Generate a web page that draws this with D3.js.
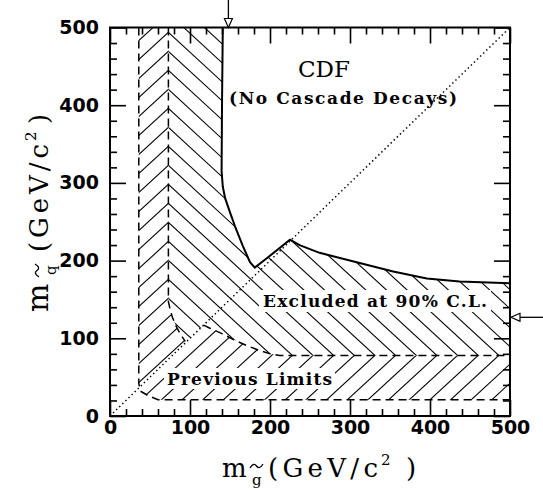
<!DOCTYPE html>
<html>
<head>
<meta charset="utf-8">
<script src="https://cdn.jsdelivr.net/npm/d3@7"></script>
<style>
  body { margin: 0; background: #fff; }
  text { fill: #000; }
</style>
</head>
<body>
<svg width="543" height="490"></svg>
<script>
// CDF limit (solid line): gluino mass, squark mass
var cdfGluino = [141, 140, 139.5, 141, 144, 150, 157, 166, 175, 181, 196, 225, 237, 262, 312, 354, 396, 437, 500];
var cdfSquark = [500, 400, 315, 295, 280, 262, 242, 219, 198, 191, 203, 227, 220, 210, 197, 186, 177, 173, 171];

// previous limits - outer dashed edge
var prevOuterGluino = [36, 36, 38, 48, 60, 500];
var prevOuterSquark = [500, 42, 32, 26, 21, 21];
// previous limits - inner dashed edge above the diagonal
var prevUpperGluino = [73, 73, 75, 78, 82, 87, 94];
var prevUpperSquark = [500, 147, 138, 127, 117, 107, 96];
// previous limits - inner dashed edge below the diagonal
var prevLowerGluino = [117, 125, 140, 155, 170, 185, 200, 212, 500];
var prevLowerSquark = [117, 113, 106, 98, 91, 85, 80, 78, 78];

var majorTicks = [0, 100, 200, 300, 400, 500];
var minorTicks = [20, 40, 60, 80, 120, 140, 160, 180, 220, 240, 260, 280, 320, 340, 360, 380, 420, 440, 460, 480];

var arrowGluino = 148; // arrow on top axis
var arrowSquark = 127; // arrow on right axis

var svg = d3.select("svg");
var pLeft = 110, pRight = 510, pTop = 27.5, pBottom = 416;

var x = d3.scaleLinear().domain([0, 500]).range([pLeft, pRight]);
var y = d3.scaleLinear().domain([0, 500]).range([pBottom, pTop]);

function pts(gx, sq) {
  return gx.map(function (d, i) { return [d, sq[i]]; });
}
var line = d3.line()
  .x(function (d) { return x(d[0]); })
  .y(function (d) { return y(d[1]); });

var cdf = pts(cdfGluino, cdfSquark);
var outer = pts(prevOuterGluino, prevOuterSquark);
var upper = pts(prevUpperGluino, prevUpperSquark);
var lower = pts(prevLowerGluino, prevLowerSquark);

// regions
var newRegion = cdf.concat(lower.slice().reverse(), upper.slice().reverse());
var prevRegion = outer.concat(lower.slice().reverse(), upper.slice().reverse());

var defs = svg.append("defs");
defs.append("clipPath").attr("id", "clipNew")
  .append("path").attr("d", line(newRegion) + "Z");
defs.append("clipPath").attr("id", "clipPrev")
  .append("path").attr("d", line(prevRegion) + "Z");

// hatching, chevrons meet on the dashed edges
var slope = 0.92, spacing = 19;
var pxA = x(73), pyB = y(78);
function hatch(clipId, dir) {
  var g = svg.append("g").attr("clip-path", "url(#" + clipId + ")");
  for (var k = -50; k <= 50; k++) {
    var y1 = pyB + dir * slope * (pLeft - pxA) + k * spacing;
    var y2 = pyB + dir * slope * (pRight - pxA) + k * spacing;
    g.append("line")
      .attr("x1", pLeft).attr("y1", y1)
      .attr("x2", pRight).attr("y2", y2)
      .attr("stroke", "#000").attr("stroke-width", 1.1);
  }
}
hatch("clipNew", 1);
hatch("clipPrev", -1);

// text labels with white backing
function label(txt, xp, yp, size, weight, len) {
  var g = svg.append("g");
  var r = g.append("rect").attr("fill", "#fff");
  var t = g.append("text")
    .attr("x", xp).attr("y", yp)
    .style("font-family", "DejaVu Serif")
    .style("font-size", size + "px")
    .style("font-weight", weight)
    .attr("textLength", len)
    .attr("lengthAdjust", "spacing")
    .text(txt);
  return { g: g, r: r, t: t };
}
var exc = label("Excluded at 90% C.L.", 263, 307, 17, "bold", 224);
var bb = exc.t.node().getBBox();
exc.r.attr("x", bb.x - 4).attr("y", 290).attr("width", bb.width + 8).attr("height", 22);
var prv = label("Previous Limits", 167, 385, 17, "bold", 165);
bb = prv.t.node().getBBox();
prv.r.attr("x", bb.x - 3).attr("y", 368).attr("width", bb.width + 6).attr("height", 21);

// diagonal
svg.append("path")
  .attr("d", line([[0, 0], [500, 500]]))
  .attr("fill", "none").attr("stroke", "#000")
  .attr("stroke-width", 1.5).attr("stroke-dasharray", "1.4,2.9");

// dashed previous limits
[outer, upper, lower].forEach(function (p) {
  svg.append("path")
    .attr("d", line(p))
    .attr("fill", "none").attr("stroke", "#000")
    .attr("stroke-width", 1.5).attr("stroke-dasharray", "8,5");
});

// CDF limit
svg.append("path")
  .attr("d", line(cdf))
  .attr("fill", "none").attr("stroke", "#000")
  .attr("stroke-width", 2);

// frame
svg.append("rect")
  .attr("x", pLeft).attr("y", pTop)
  .attr("width", pRight - pLeft).attr("height", pBottom - pTop)
  .attr("fill", "none").attr("stroke", "#000").attr("stroke-width", 2);

// axes
function axis(gen, tr, vals, size, fmt) {
  var g = svg.append("g").attr("transform", tr)
    .call(gen.tickValues(vals).tickSize(size).tickSizeOuter(0).tickFormat(fmt));
  g.select(".domain").remove();
  g.selectAll(".tick line").attr("stroke-width", 1.6);
  return g;
}
var noLabel = function () { return ""; };
var xb = axis(d3.axisBottom(x).tickPadding(5), "translate(0," + pBottom + ")", majorTicks, -16, d3.format("d"));
axis(d3.axisBottom(x), "translate(0," + pBottom + ")", minorTicks, -7, noLabel);
var yl = axis(d3.axisLeft(y).tickPadding(11), "translate(" + pLeft + ",0)", majorTicks, -16, d3.format("d"));
axis(d3.axisLeft(y), "translate(" + pLeft + ",0)", minorTicks, -7, noLabel);
axis(d3.axisTop(x), "translate(0," + pTop + ")", majorTicks, -16, noLabel);
axis(d3.axisTop(x), "translate(0," + pTop + ")", minorTicks, -7, noLabel);
axis(d3.axisRight(y), "translate(" + pRight + ",0)", majorTicks, -16, noLabel);
axis(d3.axisRight(y), "translate(" + pRight + ",0)", minorTicks, -7, noLabel);

[xb, yl].forEach(function (g) {
  g.selectAll("text")
    .style("font-family", "DejaVu Sans")
    .style("font-size", "19px")
    .style("font-weight", "bold")
    .attr("fill", "#000");
});

// title texts
svg.append("text")
  .attr("x", 324).attr("y", 77)
  .attr("text-anchor", "middle")
  .style("font-family", "DejaVu Serif")
  .style("font-size", "23px")
  .text("CDF");
label("(No Cascade Decays)", 229, 104, 17, "bold", 228);

// axis titles, positions along the reading direction
function massTitle(tr, sub, o) {
  var g = svg.append("g").attr("transform", tr);
  var serif = function (sel) { return sel.style("font-family", "DejaVu Serif"); };
  serif(g.append("text").attr("x", 0).attr("y", 0).style("font-size", o.m + "px").text("m"));
  // tilde over the subscript
  var a = o.sub - 1;
  g.append("path")
    .attr("d", "M" + a + ",-9 C" + (a + 3) + ",-14 " + (a + 5) + ",-13 " + (a + 6.5) + ",-11" +
      " S" + (a + 10) + ",-8 " + (a + 13) + ",-13")
    .attr("fill", "none").attr("stroke", "#000").attr("stroke-width", 1.3);
  serif(g.append("text").attr("x", o.sub + 1).attr("y", 8).style("font-size", "15px").text(sub));
  serif(g.append("text").attr("x", o.open).attr("y", 0).style("font-size", "26px")
    .attr("textLength", o.len).attr("lengthAdjust", "spacing").text("(GeV/c"));
  serif(g.append("text").attr("x", o.open + o.len + 3).attr("y", -12).style("font-size", "15px").text("2"));
  serif(g.append("text").attr("x", o.close).attr("y", 0).style("font-size", "26px").text(")"));
}
massTitle("translate(222,477)", "g", { m: 26, sub: 29, open: 46, len: 110, close: 184 });
massTitle("translate(48,312) rotate(-90)", "q", { m: 30, sub: 36, open: 60, len: 108, close: 188 });

// arrows
function arrow(x1, y1, x2, y2) {
  var a = Math.atan2(y2 - y1, x2 - x1), L = 9, w = 4;
  var bx = x2 - L * Math.cos(a), by = y2 - L * Math.sin(a);
  var nx = -Math.sin(a) * w, ny = Math.cos(a) * w;
  svg.append("line").attr("x1", x1).attr("y1", y1).attr("x2", bx).attr("y2", by)
    .attr("stroke", "#000").attr("stroke-width", 1.3);
  svg.append("path")
    .attr("d", "M" + (bx + nx) + "," + (by + ny) + "L" + x2 + "," + y2 + "L" + (bx - nx) + "," + (by - ny) + "Z")
    .attr("fill", "#fff").attr("stroke", "#000").attr("stroke-width", 1.2);
}
arrow(x(arrowGluino), 0, x(arrowGluino), pTop);
arrow(543, y(arrowSquark), pRight + 1, y(arrowSquark));
</script>
</body>
</html>
